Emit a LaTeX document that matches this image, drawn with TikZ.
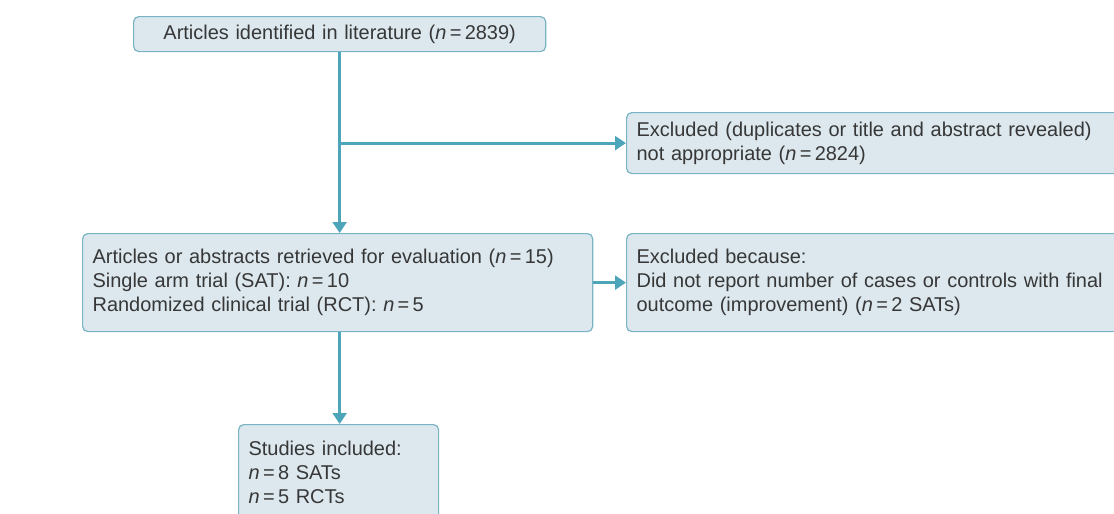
\documentclass[tikz,border=0pt]{standalone}
\usepackage{fontspec}
\setmainfont{Liberation Sans}
\usetikzlibrary{arrows.meta}

\definecolor{boxfill}{RGB}{220,232,238}
\definecolor{boxline}{RGB}{122,180,196}
\definecolor{flowline}{RGB}{77,165,186}
\definecolor{boxtext}{RGB}{55,55,55}

\tikzset{
  stagebox/.style={draw=boxline, fill=boxfill, line width=0.85pt,
    rounded corners=1.3mm, anchor=north west, inner xsep=0.25cm,
    text=boxtext, font=\fontsize{14.2pt}{17.2pt}\selectfont},
  flow/.style={draw=flowline, line width=2.1pt,
    -{Triangle[length=2.7mm,width=3.4mm]}},
}
\newcommand{\nval}[1]{\textit{n}\,=\,#1}

\begin{document}
\begin{tikzpicture}[x=0.025cm,y=-0.025cm]
  % page is 1114 x 514, boxes on the right and bottom run off it
  \clip (0,0) rectangle (1114,514);

  \node[stagebox, minimum width=10.3cm, minimum height=0.875cm,
    text width=9.8cm, align=center] (found) at (133,16)
    {Articles identified in literature (\nval{2839})};

  \node[stagebox, minimum height=1.525cm, text width=12.5cm, align=left]
    (dupes) at (626,112)
    {Excluded (duplicates or title and abstract revealed)\\
     not appropriate (\nval{2824})};

  \node[stagebox, minimum height=2.45cm, text width=12.25cm, align=left]
    (retrieved) at (82,233)
    {Articles or abstracts retrieved for evaluation (\nval{15})\\
     Single arm trial (SAT): \nval{10}\\
     Randomized clinical trial (RCT): \nval{5}};

  \node[stagebox, minimum height=2.45cm, text width=12.5cm, align=left]
    (noreport) at (626,233)
    {Excluded because:\\
     Did not report number of cases or controls with final\\
     outcome (improvement) (\nval{2 SATs})};

  \node[stagebox, minimum height=2.375cm, text width=4.5cm, align=left]
    (included) at (238,424)
    {Studies included:\\
     \nval{8 SATs}\\
     \nval{5 RCTs}};

  % main line and the two exclusions
  \coordinate (split) at (found.south |- dupes.west);
  \draw[flow] (found.south) -- (found.south |- retrieved.north);
  \draw[flow] (split) -- (dupes.west);
  \draw[flow] (retrieved.east) -- (noreport.west);
  \draw[flow] (found.south |- retrieved.south) -- (found.south |- included.north);
\end{tikzpicture}
\end{document}
